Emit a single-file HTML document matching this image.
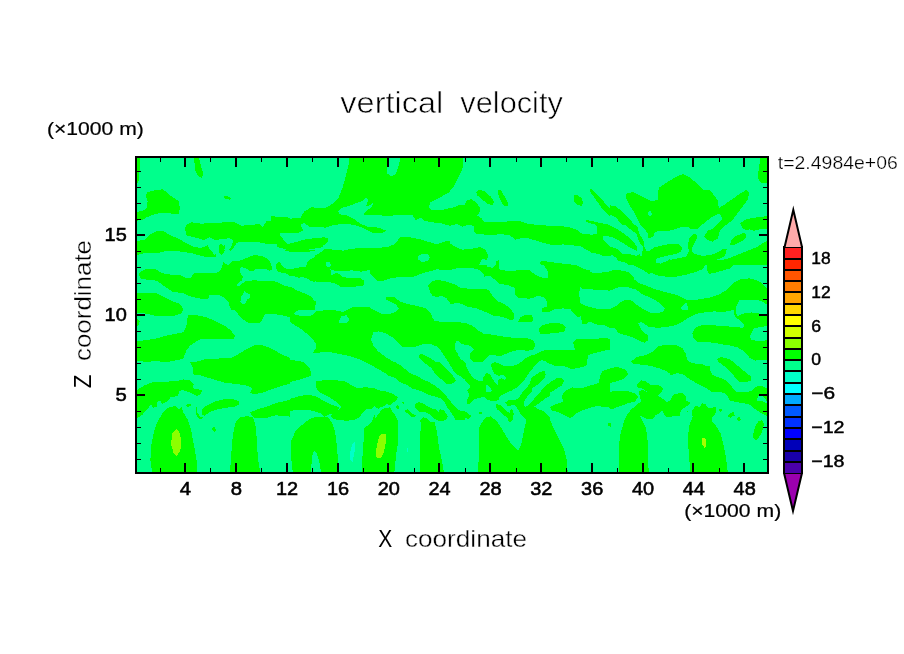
<!DOCTYPE html>
<html><head><meta charset="utf-8"><title>vertical velocity</title>
<style>html,body{margin:0;padding:0;background:#fff}svg{display:block}text{font-family:"Liberation Sans",sans-serif;fill:#000}</style></head><body>
<svg width="904" height="654" viewBox="0 0 904 654">
<rect width="904" height="654" fill="#fff"/>
<defs><clipPath id="pc"><rect x="136" y="157" width="632" height="316"/></clipPath></defs>
<rect x="136" y="157" width="632" height="316" fill="#00FF8C"/>
<g clip-path="url(#pc)" shape-rendering="crispEdges">
<g id="tA">
<polygon fill="#00FF00" points="137.1,157.7 139.7,157.7 139.7,169.2 138.5,181.5 137.1,183.3"/>
<polygon fill="#00FF00" points="194.1,157.7 199.0,157.7 200.8,165.6 203.5,173.6 201.7,177.7 198.1,176.2 195.1,170.0"/>
<polygon fill="#00FF00" points="146.8,192.2 154.8,190.4 162.7,189.2 170.7,195.7 178.7,201.0 179.9,208.1 178.7,214.3 169.8,213.4 162.7,212.5 154.8,214.3 147.7,216.9 142.4,219.6 137.1,220.8 137.1,211.6 142.4,211.3 146.8,208.1 147.7,201.0 145.9,196.6"/>
<polygon fill="#00FF00" points="224.2,195.7 227.3,196.1 230.9,197.8 230.0,199.6 225.6,199.2 223.8,197.5"/>
<polygon fill="#00FF00" points="185.8,224.9 191.9,222.3 200.8,223.7 209.6,223.1 225.6,222.3 234.4,222.3 241.5,225.8 250.4,224.9 260.1,224.0 262.7,227.6 266.3,221.4 270.7,221.4 271.6,215.2 276.9,217.3 284.0,216.9 290.0,217.8 290.0,232.7 279.9,232.7 280.4,235.5 283.6,239.8 287.2,243.8 290.0,243.8 290.0,251.5 284.0,248.8 276.9,247.0 276.9,243.5 269.8,244.4 261.0,242.6 250.4,241.7 239.7,241.7 236.2,243.5 231.8,250.6 228.2,251.5 231.8,245.3 233.5,240.0 229.1,238.2 222.0,239.1 215.0,240.0 209.6,237.3 204.3,240.0 197.3,238.2 191.9,236.8 186.6,235.5 185.2,229.3"/>
<polygon fill="#00FF00" points="218.5,245.3 221.2,243.5 223.8,246.2 225.6,243.5 224.7,248.8 222.0,254.1 219.4,251.5"/>
<polygon fill="#00FF00" points="137.1,240.8 144.2,240.0 149.5,234.6 156.5,231.1 163.6,231.1 170.7,235.5 179.6,239.1 186.6,243.5 193.7,247.0 200.8,247.9 207.9,245.3 209.6,248.8 213.2,253.2 215.8,256.8 207.9,257.3 200.8,255.9 191.9,253.2 183.1,252.0 174.2,250.6 167.2,250.6 161.9,252.3 153.0,253.2 144.2,253.2 137.1,255.0"/>
<polygon fill="#00FF00" points="222.0,265.1 223.8,262.1 227.3,263.8 232.7,261.2 243.3,258.5 252.1,255.0 257.4,255.0 264.5,257.7 269.8,262.1 271.6,265.1"/>
<polygon fill="#00FF00" points="276.9,263.0 280.4,262.1 284.0,265.1 276.9,265.1"/>
</g>
<g id="tB">
<polygon fill="#00FF00" points="349.3,157.7 348.4,165.6 345.8,176.2 342.2,188.6 338.7,197.5 332.5,203.7 325.4,208.1 318.3,208.1 311.2,207.2 304.2,211.6 300.6,217.8 290.0,218.7 290.0,232.5 298.8,232.9 303.3,230.2 300.6,224.9 304.2,223.1 309.5,226.7 316.5,226.7 325.4,227.6 334.2,224.9 343.1,224.0 350.2,224.4 357.3,225.8 364.3,228.5 373.2,232.9 382.0,232.9 386.5,230.8 378.5,227.6 367.9,226.7 360.8,224.0 353.7,218.7 346.6,215.2 339.6,214.3 338.1,211.6 341.3,208.1 350.2,205.4 357.3,202.8 362.6,201.0 367.0,197.1 367.9,201.0 366.1,206.3 369.6,205.4 372.8,203.1 372.3,206.3 367.9,209.9 362.6,214.3 367.9,215.2 375.0,214.8 382.0,215.5 392.7,215.5 403.3,215.2 412.1,214.8 415.7,220.1 421.0,217.8 424.5,220.5 431.6,222.3 440.4,223.1 450.0,225.8 450.0,208.1 440.4,210.2 431.6,210.2 428.9,207.2 430.7,201.9 438.7,198.4 445.8,193.9 450.0,192.2 450.0,157.7 400.6,157.7 398.0,167.4 396.2,173.6 390.9,176.6 386.5,172.7 386.5,157.7"/>
<polygon fill="#00FF00" points="290.0,243.5 297.1,241.7 305.9,239.1 314.8,238.2 323.6,237.3 328.1,238.2 328.1,241.7 323.6,245.3 321.9,247.4 314.8,248.5 307.7,249.7 298.8,251.5 290.0,253.2"/>
<polygon fill="#00FF00" points="306.8,265.1 307.7,261.2 314.8,255.9 321.9,251.5 325.4,248.8 334.2,249.7 343.1,250.6 351.9,248.8 360.8,247.9 369.6,248.5 378.5,247.9 387.3,247.0 394.4,244.4 398.0,240.0 400.6,237.3 410.4,237.3 419.2,239.1 428.1,241.7 436.9,244.4 444.0,241.7 450.0,240.8 450.0,265.1"/>
<polygon fill="#00FF8C" points="326.3,262.1 329.8,261.7 331.1,265.1 326.3,265.1"/>
<polygon fill="#00FF8C" points="418.3,255.9 421.9,254.1 428.1,254.5 430.2,257.7 427.2,261.2 421.9,262.1 418.3,259.4"/>
</g>
<g id="tC">
<polygon fill="#00FF00" points="450.0,157.7 463.3,157.7 462.4,169.2 458.0,178.0 453.5,186.9 450.0,190.4"/>
<polygon fill="#00FF00" points="476.2,192.2 479.2,189.7 484.9,191.6 491.2,197.1 493.9,201.9 492.8,205.3 487.7,204.0 481.5,198.9 477.1,195.2"/>
<polygon fill="#00FF00" points="498.3,190.4 500.6,190.0 505.2,197.1 508.1,202.8 507.9,206.3 503.8,205.8 500.1,199.6 498.3,194.3"/>
<polygon fill="#00FF00" points="450.0,208.1 455.3,207.2 458.8,204.6 464.2,205.4 466.8,200.1 471.2,199.2 476.5,202.8 480.1,208.1 479.2,213.4 476.5,215.2 481.9,218.7 484.5,222.3 496.0,222.3 508.4,221.4 520.8,221.4 527.9,224.0 538.5,224.9 549.1,225.8 559.7,225.8 570.4,227.6 577.4,230.2 581.9,233.8 591.6,234.6 596.9,235.5 597.8,229.3 596.9,224.9 589.8,223.1 585.4,221.9 586.3,220.1 593.4,221.4 600.4,223.1 610.0,224.9 610.0,236.4 604.0,236.1 605.8,240.0 610.0,245.3 610.0,254.1 605.8,257.3 600.4,255.0 591.6,252.0 584.5,248.8 581.0,246.2 572.1,245.3 563.3,244.4 554.4,245.3 545.6,243.5 536.7,240.8 527.9,238.2 522.6,237.8 515.5,239.6 510.2,235.5 503.1,234.3 494.2,234.6 485.4,234.6 476.5,233.8 473.9,231.1 473.9,225.8 467.7,224.9 462.4,226.7 457.1,224.0 450.0,225.8"/>
<polygon fill="#00FF00" points="573.9,195.7 576.5,194.8 581.9,198.4 583.1,202.8 581.9,206.0 577.4,204.9 573.9,201.0"/>
<polygon fill="#00FF00" points="589.5,189.5 591.9,189.2 599.6,196.8 606.8,205.3 610.0,208.5 610.0,216.1 605.8,212.5 600.4,206.3 595.1,198.4 590.7,192.5"/>
<polygon fill="#00FF00" points="450.0,243.5 455.3,247.0 462.4,249.7 471.2,248.8 480.1,247.0 485.4,249.7 488.1,255.0 487.2,260.3 482.7,258.5 481.0,261.2 479.2,265.1 450.0,265.1"/>
<polygon fill="#00FF00" points="495.7,261.2 498.7,260.3 498.7,265.1 495.7,265.1"/>
<polygon fill="#00FF00" points="539.4,262.1 542.9,260.8 550.9,262.1 559.7,263.3 570.4,264.4 572.1,265.1 541.2,265.1"/>
</g>
<g id="tD">
<polygon fill="#00FF00" points="760.4,157.7 767.0,157.7 767.0,183.3 760.4,182.4 757.8,178.0 758.7,169.2"/>
<polygon fill="#00FF00" points="626.8,193.1 633.0,192.2 641.9,196.6 650.7,201.0 657.8,200.1 658.7,187.7 668.4,181.5 677.3,176.2 683.5,174.1 689.6,177.1 696.7,183.3 702.9,189.5 709.1,189.5 714.4,195.7 718.0,201.0 718.8,208.1 723.3,205.4 732.1,199.2 741.0,193.1 746.3,190.0 748.9,192.2 748.1,199.2 742.7,206.3 737.4,213.4 732.1,220.5 725.0,225.8 719.7,231.1 718.0,238.2 712.7,241.7 707.3,240.0 704.2,236.8 707.3,231.1 714.4,227.6 720.6,221.4 722.4,217.8 718.8,213.4 710.9,217.8 702.0,224.9 696.7,229.3 691.4,229.3 687.9,226.7 679.0,227.6 671.9,230.2 661.3,231.1 654.2,232.9 651.6,237.3 648.1,237.3 645.4,231.1 640.1,224.0 634.8,213.4 629.5,205.4 625.9,197.5"/>
<polygon fill="#00FF8C" points="648.1,211.6 650.4,211.3 652.1,214.3 649.8,216.1 648.1,214.3"/>
<polygon fill="#00FF00" points="610.0,205.4 615.3,206.3 622.4,211.6 629.5,218.7 636.5,227.6 641.9,238.2 643.6,245.3 642.7,257.7 641.0,257.7 639.2,250.6 634.8,241.7 627.7,231.1 620.6,223.1 615.3,216.9 610.0,214.3"/>
<polygon fill="#00FF00" points="610.0,226.7 615.3,228.5 622.4,233.8 629.5,240.0 634.8,245.3 637.4,250.6 634.8,252.0 627.7,247.0 620.6,240.8 615.3,236.4 610.0,234.6"/>
<polygon fill="#00FF00" points="610.0,248.8 615.3,249.7 622.4,253.2 631.2,255.9 640.1,257.7 643.6,251.5 650.7,250.6 656.0,247.0 664.9,244.4 673.7,243.5 679.0,244.4 682.6,247.9 680.8,251.5 675.5,254.1 666.6,255.9 659.6,257.7 656.0,261.2 657.8,263.8 664.9,262.1 671.9,259.4 680.8,257.7 686.1,256.8 688.8,251.5 687.9,243.5 689.6,238.2 693.2,233.8 696.7,234.6 697.1,238.2 694.1,243.5 691.4,248.8 693.2,253.2 702.0,255.9 710.9,255.0 716.2,253.2 723.3,248.8 726.8,248.8 725.0,255.9 719.7,258.5 716.2,259.8 723.3,259.8 730.4,257.7 739.2,254.1 748.1,250.6 756.9,247.0 762.2,243.5 767.0,240.8 767.0,265.1 610.0,265.1"/>
<polygon fill="#00FF00" points="740.1,223.1 746.3,219.1 756.9,217.3 767.0,216.1 767.0,229.0 760.4,229.3 753.4,230.8 749.8,229.3 746.3,230.2 742.7,228.5"/>
<polygon fill="#00FF00" points="729.5,245.3 731.2,240.8 735.7,236.1 742.7,233.2 745.4,232.9 745.9,238.2 741.0,241.7 733.9,245.3"/>
</g>
<g id="tE">
<polygon fill="#00FF00" points="139.7,272.1 145.9,268.9 154.8,268.9 161.9,273.0 170.7,274.7 179.6,274.7 186.6,278.3 191.1,277.4 193.7,273.5 204.3,273.0 216.7,273.0 222.0,269.4 226.5,265.0 271.6,265.0 271.6,267.7 253.9,267.7 240.6,267.7 243.3,277.4 238.8,282.7 236.2,285.9 240.6,284.5 245.0,280.9 257.4,280.6 271.6,280.9 278.7,280.6 290.0,284.5 290.0,317.2 282.2,315.4 271.6,313.7 264.5,314.6 262.7,319.0 260.1,322.5 247.7,322.5 241.5,318.1 236.2,311.9 230.9,307.5 227.3,300.4 222.0,298.6 215.0,295.1 209.6,294.7 207.9,299.5 200.8,298.6 191.9,296.9 183.1,293.3 172.5,291.5 165.4,287.1 158.3,281.8 153.0,279.5 145.9,279.5 140.6,278.3 138.8,274.7"/>
<polygon fill="#00FF8C" points="243.3,291.5 246.8,291.5 250.4,295.1 247.7,300.4 244.2,303.6 240.6,301.3 241.2,296.0"/>
<polygon fill="#00FF00" points="271.6,265.0 276.9,265.0 277.8,273.0 271.6,272.1"/>
<polygon fill="#00FF00" points="137.1,293.3 147.7,293.0 156.5,293.3 163.6,296.9 172.5,301.3 179.6,303.9 183.1,308.4 182.2,312.8 176.0,315.4 165.4,316.3 156.5,316.3 147.7,313.7 137.1,312.8"/>
<polygon fill="#00FF00" points="137.1,319.0 139.7,321.6 138.8,325.2 137.1,326.1"/>
<polygon fill="#00FF00" points="188.4,315.4 197.3,315.4 206.1,317.2 215.0,320.8 223.8,325.2 230.0,329.6 235.3,335.8 233.5,339.3 227.3,339.3 218.5,338.5 209.6,339.0 200.8,339.3 195.5,342.0 190.2,345.5 186.6,350.0 184.9,354.4 183.1,358.8 174.2,360.6 165.4,362.3 154.8,360.6 147.7,362.3 137.1,360.6 137.1,341.1 145.9,340.2 156.5,338.5 165.4,335.8 174.2,334.0 183.1,332.3 186.3,326.9 187.0,319.9"/>
<polygon fill="#00FF00" points="193.7,375.1 192.8,367.7 190.2,362.3 197.3,361.5 206.1,358.8 218.5,358.5 230.9,357.9 238.0,354.4 245.0,350.0 253.9,345.5 261.0,345.0 268.1,347.3 276.9,351.7 284.0,355.3 290.0,357.9 290.0,375.1"/>
</g>
<g id="tF">
<polygon fill="#00FF00" points="290.0,270.3 297.1,268.2 304.2,267.1 305.9,265.0 326.3,265.0 326.8,267.1 330.4,267.1 330.7,265.0 450.0,265.0 450.0,270.0 436.9,269.4 429.8,271.2 421.0,273.8 413.9,276.5 403.3,277.0 392.7,277.7 383.8,280.6 376.7,280.6 374.1,277.4 370.5,273.8 369.6,270.0 360.8,271.7 351.9,270.3 343.1,271.2 336.0,271.2 330.4,269.4 331.6,275.3 336.0,273.0 339.6,273.8 343.1,277.4 351.9,277.7 360.8,278.3 364.3,280.9 363.5,285.4 351.9,287.1 341.3,287.1 334.2,282.7 321.0,281.8 313.0,281.3 307.7,279.2 300.6,277.4 290.0,276.0"/>
<polygon fill="#00FF00" points="450.0,282.7 444.0,280.9 436.9,280.0 431.6,281.8 428.1,285.4 429.8,291.5 432.5,296.0 436.9,296.9 442.2,296.0 445.8,297.7 450.0,302.2"/>
<polygon fill="#00FF00" points="290.0,287.1 295.3,288.0 302.4,292.4 311.2,296.9 316.5,302.2 314.8,307.5 307.7,310.0 300.6,310.0 296.2,311.0 293.5,313.7 297.1,315.4 310.4,316.3 316.5,311.4 325.4,310.1 334.2,310.1 343.1,311.9 351.9,307.5 360.8,307.1 369.6,307.5 376.7,311.4 382.0,314.2 389.1,314.2 395.3,311.9 398.8,308.4 396.2,304.8 390.9,302.2 385.6,299.5 385.6,297.2 394.4,297.2 399.7,301.3 406.8,303.9 417.4,306.1 426.3,308.4 430.7,312.8 432.5,318.1 435.1,321.3 450.0,322.0 450.0,364.1 447.5,360.6 444.0,355.3 440.4,350.0 436.9,346.4 429.8,343.8 421.0,344.6 413.9,347.3 403.3,347.3 398.0,342.9 392.7,337.6 385.6,333.1 378.5,331.4 373.2,332.3 371.1,339.3 373.2,345.5 378.5,351.7 385.6,357.0 392.7,361.5 399.7,365.9 406.8,370.3 412.1,375.1 383.8,375.1 378.5,369.4 369.6,364.1 360.8,359.7 350.2,356.2 341.3,354.4 332.5,352.6 323.6,351.7 316.5,353.5 313.0,353.1 315.7,348.2 315.7,342.9 309.5,335.8 300.6,328.7 293.5,324.3 290.0,321.6"/>
<polygon fill="#00FF8C" points="341.3,316.3 346.6,315.1 349.3,319.9 346.6,322.5 339.2,322.5 339.6,319.0"/>
<polygon fill="#00FF00" points="290.0,360.2 297.1,360.6 304.2,362.3 309.5,367.7 311.6,375.1 290.0,375.1"/>
<polygon fill="#00FF00" points="418.3,354.9 421.9,354.0 429.8,357.9 438.7,364.1 445.8,369.4 450.0,372.1 450.0,375.1 436.9,375.1 431.6,369.4 424.5,363.2 420.1,358.8"/>
</g>
<g id="tG">
<polygon fill="#00FF00" points="450.0,265.0 486.3,265.0 487.2,267.1 492.5,267.7 495.1,265.0 498.7,265.0 499.6,269.4 508.4,271.2 520.8,270.0 529.6,270.3 535.0,274.7 542.0,277.7 548.2,278.3 548.2,272.1 543.8,265.0 576.5,265.0 581.0,267.7 591.6,271.2 602.2,272.4 610.0,272.1 610.0,290.7 602.2,290.1 591.6,289.4 582.7,288.9 580.1,287.1 579.2,293.3 580.1,303.1 584.5,305.4 595.1,308.4 604.0,309.2 610.0,309.2 610.0,327.8 604.0,325.2 595.1,324.3 589.8,321.3 586.3,324.3 581.9,323.4 581.0,316.3 577.4,317.2 573.9,313.7 570.4,309.2 563.3,308.4 554.4,309.2 549.1,311.9 542.0,311.9 542.0,308.4 546.5,306.6 547.3,302.2 543.8,296.9 536.7,296.0 533.2,298.3 527.9,298.6 518.1,297.7 514.6,294.2 515.5,288.0 508.4,285.4 499.6,283.6 494.2,279.2 489.8,275.6 484.5,276.5 483.6,273.8 478.3,269.4 473.0,268.2 457.1,268.2 450.0,270.0"/>
<polygon fill="#00FF00" points="450.0,282.7 455.3,284.5 460.6,288.0 471.2,288.9 481.9,288.9 488.9,289.8 492.5,296.0 497.8,301.3 504.9,304.3 510.2,308.4 513.7,313.7 514.6,318.1 511.1,320.8 506.6,318.1 499.6,316.3 492.5,315.4 485.4,311.9 476.5,308.4 467.7,306.6 460.6,303.6 455.3,303.1 450.0,304.3"/>
<polygon fill="#00FF00" points="518.1,321.6 519.9,317.7 524.3,315.4 531.4,315.1 533.2,318.1 532.3,321.6"/>
<polygon fill="#00FF00" points="538.5,329.6 542.0,325.2 549.1,323.4 556.2,322.5 563.3,324.3 565.9,327.3 564.2,331.4 556.2,333.1 547.3,333.7 540.3,333.7"/>
<polygon fill="#00FF00" points="450.0,322.5 457.1,322.0 465.9,323.1 473.0,326.1 478.3,330.5 483.6,333.7 494.2,334.9 506.6,337.2 517.3,337.9 527.9,338.5 533.2,340.2 535.0,343.8 534.1,349.1 527.9,350.8 520.8,350.0 513.7,350.8 506.6,353.5 501.3,355.6 494.2,355.3 490.7,354.4 487.2,357.9 483.6,361.5 473.0,362.0 469.1,358.8 470.4,353.5 473.9,349.1 469.5,345.5 462.4,344.3 457.1,340.2 455.0,343.8 455.3,350.0 458.8,355.3 464.2,360.6 466.8,365.9 468.6,372.1 469.5,375.1 450.0,375.1"/>
<polygon fill="#00FF00" points="486.3,375.1 487.2,373.0 491.1,372.1 491.1,365.9 494.2,362.3 498.7,363.2 504.9,366.2 513.7,366.2 520.8,363.2 526.1,358.8 533.2,355.3 540.3,351.7 545.6,350.0 556.2,349.6 566.8,350.0 574.8,349.6 573.9,344.6 573.0,342.0 576.5,338.5 584.5,339.0 595.1,339.3 604.0,337.6 610.0,339.0 610.0,349.6 604.0,350.8 596.9,352.6 588.1,354.9 587.2,360.6 586.3,365.9 579.2,367.7 572.1,369.1 563.3,365.9 554.4,365.9 547.3,362.3 542.0,360.2 537.6,362.0 533.2,366.8 527.9,371.2 520.8,375.1"/>
<polygon fill="#00FF00" points="535.0,375.1 540.3,372.1 545.6,371.2 546.5,375.1"/>
<polygon fill="#00FF00" points="600.4,375.1 602.2,371.2 610.0,368.5 610.0,375.1"/>
</g>
<g id="tH">
<polygon fill="#00FF00" points="636.5,265.0 705.6,265.0 702.0,269.4 695.0,272.1 686.1,274.7 677.3,276.5 666.6,276.5 657.8,274.7 650.7,273.0 643.6,270.3"/>
<polygon fill="#00FF00" points="707.3,265.0 733.9,265.0 730.4,268.5 723.3,270.3 714.4,273.0 709.1,273.8 707.0,270.3"/>
<polygon fill="#00FF00" points="610.0,272.1 617.1,270.3 625.9,272.1 633.0,277.4 638.3,282.7 645.4,285.4 654.2,288.9 666.6,292.4 677.3,295.1 684.3,298.6 687.9,300.4 698.5,299.5 709.1,297.7 719.7,294.2 726.8,289.8 733.9,282.7 741.0,279.2 749.8,278.3 758.7,280.9 767.0,288.0 767.0,304.8 762.2,301.3 755.1,299.5 746.3,299.5 739.2,300.4 736.5,305.7 735.7,311.9 737.4,316.3 742.7,313.7 751.6,312.4 760.4,313.7 767.0,315.4 767.0,326.1 760.4,326.9 753.4,328.7 751.6,333.1 749.8,336.7 751.6,340.2 760.4,341.1 767.0,340.2 767.0,359.7 760.4,359.7 755.1,360.6 749.8,357.9 744.5,351.7 737.4,347.3 730.4,345.5 723.3,344.6 714.4,342.9 705.6,342.0 696.7,341.5 693.2,337.6 692.3,333.1 695.0,327.8 702.0,325.2 712.7,325.2 723.3,326.1 733.9,326.9 742.7,327.8 744.5,325.2 739.2,319.9 734.8,316.3 733.5,310.1 730.4,310.7 723.3,311.9 714.4,311.4 705.6,312.4 698.5,313.1 693.2,315.4 687.9,318.1 682.6,321.6 675.5,325.2 666.6,326.9 657.8,327.8 648.9,326.9 641.0,321.6 638.3,323.4 641.9,330.5 648.1,335.8 648.1,340.2 644.5,342.9 638.3,340.2 631.2,336.7 624.2,334.9 617.1,332.3 616.2,328.7 610.0,327.8 610.0,309.2 615.3,306.6 620.6,302.2 625.9,299.5 631.2,300.4 636.5,304.8 643.6,309.2 650.7,312.8 657.8,313.1 663.1,311.4 664.9,308.4 661.3,304.8 656.0,300.4 648.9,296.9 641.9,294.2 636.5,289.8 627.7,287.1 618.8,287.1 610.0,290.7"/>
<polygon fill="#00FF8C" points="680.8,307.5 686.1,302.2 687.9,306.6 687.9,309.6 681.7,309.6"/>
<polygon fill="#00FF00" points="631.2,361.5 636.5,357.0 645.4,355.3 652.5,351.7 657.8,346.4 666.6,344.6 675.5,345.0 682.6,348.2 686.1,354.4 687.0,359.7 691.4,363.2 702.0,364.1 709.1,367.7 710.9,375.1 671.9,375.1 666.6,371.2 659.6,368.5 650.7,365.9 640.1,364.5 633.0,364.1"/>
<polygon fill="#00FF00" points="610.0,367.7 618.8,367.3 625.0,369.4 627.7,373.0 627.7,375.1 610.0,375.1"/>
<polygon fill="#00FF00" points="717.1,358.8 721.5,357.0 728.6,358.8 733.9,362.3 739.2,367.7 746.3,372.1 749.8,375.1 733.9,375.1 728.6,369.4 721.5,364.1 718.0,361.5"/>
</g>
<g id="tI">
<polygon fill="#00FF00" points="199.0,375.0 290.0,375.0 290.0,383.8 282.2,385.6 271.6,389.2 262.7,392.7 253.9,394.1 250.4,392.7 252.1,388.3 246.8,385.6 236.2,383.8 225.6,383.0 216.7,380.3 206.1,377.1"/>
<polygon fill="#00FF00" points="137.1,390.0 144.2,385.6 153.0,382.1 165.4,381.7 176.0,381.2 183.1,379.4 190.2,380.3 193.7,384.7 192.8,388.3 197.3,389.2 202.6,390.0 200.8,393.6 197.3,396.2 190.2,392.7 183.1,390.0 179.6,390.9 177.8,396.2 170.7,397.1 167.2,401.5 161.9,404.2 160.1,400.7 156.5,402.4 157.4,406.9 153.0,407.7 151.2,404.2 147.7,408.6 142.4,414.8 137.1,418.4"/>
<polygon fill="#00FF00" points="152.1,472.0 150.4,460.0 151.2,445.8 153.9,431.6 157.4,421.9 162.7,413.1 168.1,407.7 175.1,406.0 178.7,409.5 181.3,406.9 183.1,412.2 187.5,419.2 191.1,429.9 193.7,444.0 196.4,458.2 197.3,472.0"/>
<polygon fill="#8CFF00" points="176.0,429.0 179.2,431.6 181.3,440.5 180.4,450.2 176.9,456.1 173.4,452.9 171.1,444.0 172.1,433.4"/>
<polygon fill="#00FF00" points="185.8,405.1 190.2,403.3 191.9,405.1 187.5,407.2"/>
<polygon fill="#00FF00" points="196.4,406.0 197.3,412.2 199.9,416.6 202.6,417.5 201.7,419.2 198.1,418.4 195.8,413.1"/>
<polygon fill="#00FF00" points="201.7,409.5 206.1,406.0 215.0,401.5 223.8,399.4 232.7,398.9 238.8,401.2 239.7,404.2 234.4,406.9 225.6,407.7 216.7,409.5 209.6,412.2 204.3,416.1 201.7,413.9"/>
<polygon fill="#00FF00" points="212.3,427.7 215.0,427.2 216.2,430.8 214.1,432.0 212.3,429.9"/>
<polygon fill="#00FF00" points="230.0,472.0 231.2,454.6 232.7,436.9 235.3,422.8 239.7,417.5 246.8,416.1 253.0,417.5 255.7,426.3 257.1,442.3 257.8,458.2 260.1,472.0"/>
<polygon fill="#00FF00" points="250.4,412.2 257.4,409.5 268.1,406.0 278.7,402.4 290.0,399.8 290.0,416.6 282.2,415.7 275.1,415.4 268.1,417.5 259.2,418.4 253.9,417.5 251.2,414.8"/>
</g>
<g id="tJ">
<polygon fill="#00FF00" points="290.0,375.0 312.1,375.0 305.9,377.7 297.1,380.3 290.0,382.1"/>
<polygon fill="#00FF00" points="387.3,375.0 413.9,375.0 421.0,380.3 429.8,385.6 438.7,392.7 445.8,399.8 450.0,404.2 450.0,413.1 445.8,409.5 442.2,403.3 435.1,396.2 426.3,390.9 417.4,386.5 406.8,383.0 396.2,379.4"/>
<polygon fill="#00FF00" points="437.8,375.0 450.0,375.0 450.0,384.7 444.0,382.1 439.6,378.5"/>
<polygon fill="#00FF00" points="316.5,381.2 325.4,380.0 336.0,380.3 344.9,381.2 351.9,385.6 357.3,388.3 364.3,387.4 375.0,387.7 385.6,390.0 394.4,393.6 398.0,397.1 396.2,401.5 390.9,406.0 385.6,408.6 380.3,407.7 375.0,406.0 371.4,408.6 366.1,409.5 362.6,413.1 359.0,417.5 353.7,420.1 346.6,420.7 339.6,420.1 334.2,419.2 330.7,416.6 332.5,413.1 337.8,410.4 341.3,406.9 336.0,401.5 328.9,397.1 320.1,392.7 315.7,387.4"/>
<polygon fill="#00FF00" points="290.0,398.9 298.8,396.2 307.7,394.8 314.8,395.9 321.9,399.8 330.7,404.2 339.6,407.7 337.8,410.4 332.5,413.1 324.5,416.6 321.9,413.9 314.8,411.3 305.9,409.5 297.1,409.5 290.0,411.3"/>
<polygon fill="#00FF00" points="292.7,472.0 290.9,454.6 291.4,440.5 295.3,431.6 302.4,424.6 309.5,419.2 316.5,416.6 324.5,416.6 328.1,417.5 331.6,421.9 335.1,431.6 336.9,445.8 337.8,458.2 338.1,472.0 321.0,472.0 319.2,461.7 316.5,452.9 313.9,450.2 312.1,456.4 310.9,472.0"/>
<polygon fill="#00FF00" points="361.7,472.0 362.6,454.6 363.5,442.3 364.3,428.1 371.4,422.8 374.1,415.7 378.5,410.4 385.6,408.6 390.9,407.7 394.4,410.4 397.1,417.5 398.3,428.1 398.0,442.3 396.2,454.6 394.4,472.0"/>
<polygon fill="#8CFF00" points="382.0,433.4 385.6,434.3 385.9,442.3 383.8,452.9 380.3,458.5 376.4,457.3 375.8,451.1 377.6,442.3 379.4,436.1"/>
<polygon fill="#00FFC8" points="351.9,444.9 354.6,442.3 354.6,451.1 352.8,461.7 350.2,460.0 349.8,454.6"/>
<polygon fill="#00FFC8" points="406.8,448.5 408.2,447.6 408.2,452.0 406.8,452.0"/>
<polygon fill="#00FF00" points="420.1,472.0 420.1,445.8 420.6,428.1 421.0,417.5 424.5,413.1 429.8,414.8 434.2,421.0 436.9,431.6 438.7,445.8 441.3,458.2 444.0,472.0"/>
<polygon fill="#00FF00" points="414.8,406.0 417.4,403.3 424.5,403.3 431.6,406.9 438.7,410.4 442.2,409.5 445.8,411.3 447.5,416.6 444.0,421.0 440.4,421.4 436.9,417.5 431.6,413.9 424.5,412.2 419.2,410.4"/>
<polygon fill="#00FF00" points="405.0,409.5 407.7,410.4 412.1,413.9 415.7,414.8 413.9,417.1 409.5,415.7 405.9,412.5"/>
<polygon fill="#00FF00" points="396.2,406.0 398.3,406.5 398.8,409.5 397.1,409.5"/>
</g>
<g id="tK">
<polygon fill="#00FF00" points="450.0,375.0 531.4,375.0 527.9,381.2 522.6,388.3 516.4,393.6 511.1,400.7 506.6,405.1 503.1,406.9 498.7,401.5 490.7,400.1 482.7,396.2 473.0,400.7 466.8,403.3 469.5,398.0 467.7,391.8 471.2,387.4 467.7,381.2 460.6,379.4 455.3,375.0"/>
<polygon fill="#00FF00" points="538.5,375.0 545.6,375.0 540.3,383.0 535.0,388.3 530.5,394.5 527.0,399.8 524.3,406.0 522.9,401.5 524.3,396.2 527.9,390.9 532.3,386.5 535.0,382.1"/>
<polygon fill="#00FF00" points="556.2,378.5 561.5,377.7 564.2,381.2 561.5,385.6 554.4,390.0 547.3,394.5 542.0,398.9 536.7,403.3 533.2,407.7 529.6,406.0 529.6,401.5 535.0,396.2 542.0,389.2 549.1,383.0"/>
<polygon fill="#00FF00" points="478.3,472.0 479.2,428.1 481.9,421.0 486.3,416.6 490.7,416.1 496.0,420.1 501.3,428.1 506.6,436.9 511.9,444.9 518.1,451.1 520.8,445.8 523.5,433.4 526.1,419.2 528.8,412.2 533.2,407.7 538.5,409.5 545.6,414.8 550.9,421.9 554.4,429.9 559.7,440.5 564.2,449.3 566.8,460.0 567.7,472.0"/>
<polygon fill="#00FF00" points="496.4,404.2 500.4,403.3 503.1,407.7 508.4,413.1 511.1,409.5 512.8,410.4 513.7,417.5 511.1,421.4 507.5,417.5 503.1,413.1 497.8,408.6"/>
<polygon fill="#00FF00" points="550.0,406.9 556.2,404.2 563.3,401.5 561.5,396.2 565.0,390.9 572.1,387.4 581.0,388.3 589.8,385.6 598.7,383.0 600.4,375.0 610.0,375.0 610.0,407.7 604.0,406.9 596.9,406.0 589.8,407.7 582.7,410.4 576.5,413.1 570.4,418.4 565.9,415.7 558.0,412.2 551.8,410.4"/>
<polygon fill="#00FF00" points="450.0,402.4 453.5,406.9 458.8,410.4 465.9,412.2 471.2,416.6 467.7,418.4 462.4,417.5 457.1,419.2 450.0,413.1"/>
<polygon fill="#00FF00" points="608.1,422.8 610.0,422.8 610.0,426.3 608.1,426.3"/>
</g>
<g id="tL">
<polygon fill="#00FF00" points="610.0,375.0 627.7,375.0 624.2,378.5 617.1,381.2 610.0,383.0"/>
<polygon fill="#00FF00" points="610.0,391.8 617.1,390.6 625.9,390.6 634.8,393.6 638.3,397.1 634.8,401.5 627.7,403.3 620.6,406.0 613.5,408.6 610.0,409.5"/>
<polygon fill="#00FF00" points="618.8,472.0 618.8,445.8 620.6,433.4 624.2,421.0 627.7,413.9 631.2,409.5 636.5,405.1 641.0,401.5 640.1,396.2 638.3,391.8 642.7,390.0 647.2,391.8 641.9,388.3 637.4,387.4 637.4,383.8 641.0,380.3 645.4,381.2 650.7,384.7 659.6,385.6 663.1,388.3 661.3,392.7 657.8,395.4 663.1,398.9 666.6,402.4 671.1,399.8 672.8,395.4 677.3,393.6 682.6,393.6 686.1,397.1 685.2,401.5 689.6,402.4 687.9,406.0 682.6,410.4 677.3,413.1 671.9,416.6 666.6,417.5 664.0,413.9 662.2,410.4 659.6,413.1 656.0,414.8 653.4,418.4 648.1,419.2 643.6,417.5 640.1,415.7 641.9,420.1 645.4,426.3 647.2,435.2 648.1,449.3 648.6,472.0"/>
<polygon fill="#00FF00" points="684.3,375.0 733.9,375.0 739.2,380.3 746.3,382.1 751.6,379.4 751.6,375.0 767.0,375.0 767.0,380.3 762.2,383.0 757.8,386.0 767.0,386.0 767.0,409.5 762.2,407.7 755.1,405.1 744.5,404.2 733.9,402.4 728.6,399.8 725.0,392.7 716.2,389.2 709.1,385.6 700.3,383.8 693.2,381.2 687.9,378.5"/>
<polygon fill="#00FF8C" points="767.0,380.3 767.0,386.0 760.4,386.5 755.1,387.7 751.6,390.9 744.5,392.2 735.7,392.2 733.9,390.0 741.0,389.5 749.8,388.8 756.9,385.3 762.2,382.4"/>
<polygon fill="#00FF00" points="690.5,472.0 688.8,454.6 687.9,436.9 689.6,424.6 693.2,415.7 696.7,410.4 700.3,407.7 699.4,404.2 703.8,403.3 709.1,406.9 714.4,409.5 716.2,406.9 717.1,412.2 712.7,415.7 711.8,421.0 716.2,426.3 720.6,433.4 723.3,444.0 725.9,456.4 727.7,472.0"/>
<polygon fill="#A5FF00" points="702.4,438.4 704.7,437.8 706.1,440.5 706.1,446.7 704.7,447.9 702.4,444.9"/>
<polygon fill="#00FF00" points="726.8,415.7 732.1,412.5 734.8,414.8 730.4,417.8"/>
<polygon fill="#00FF00" points="736.5,418.4 739.2,417.1 741.3,419.6 738.8,421.9"/>
<polygon fill="#00FF00" points="718.8,408.6 723.3,409.5 720.6,412.2"/>
<polygon fill="#00FF00" points="753.4,433.4 755.1,426.3 758.7,421.0 762.2,420.1 764.0,424.6 762.2,431.6 758.7,437.8 755.5,440.5 753.0,437.8"/>
<polygon fill="#00FF00" points="610.0,421.9 611.4,423.7 610.9,426.3 610.0,427.2"/>
</g>
<clipPath id="pp0"><rect x="590" y="225" width="80" height="55"/></clipPath>
<g clip-path="url(#pp0)">
<rect x="590" y="225" width="80" height="55" fill="#00FF8C"/>
<polygon fill="#00FF00" points="595.8,225.0 608.6,225.0 613.0,226.8 619.2,230.3 625.4,234.7 630.7,239.2 634.2,242.7 636.5,246.2 636.9,250.7 632.5,248.9 627.2,245.8 621.9,242.3 616.5,239.2 611.2,236.9 606.8,236.1 603.3,236.5 602.8,239.2 605.9,242.7 610.4,247.1 615.7,248.0 619.2,250.7 622.7,253.8 631.6,254.6 636.9,256.0 639.6,253.8 641.3,257.7 642.2,252.4 643.1,247.1 640.4,244.0 638.2,239.2 636.5,233.8 631.6,230.3 627.2,226.8 625.0,225.0 636.0,225.0 638.2,227.7 638.7,233.0 641.8,237.4 643.5,240.9 644.0,245.4 646.2,250.7 649.7,250.7 653.7,247.6 660.8,245.8 670.0,244.0 670.0,255.1 666.1,256.0 660.8,257.3 655.5,259.1 656.4,262.6 660.8,263.8 665.2,261.7 668.8,260.0 670.0,257.7 670.0,276.8 661.7,276.3 656.4,275.0 651.9,273.2 648.4,273.7 643.1,270.1 637.8,267.5 635.1,265.7 628.9,264.8 624.5,262.2 618.3,260.8 616.1,257.7 612.1,255.1 607.7,256.4 603.3,256.4 598.8,253.8 591.8,253.1 590.0,251.5 590.0,234.7 596.6,234.3 597.1,227.7"/>
<polygon fill="#00FF00" points="640.9,225.0 670.0,225.0 670.0,230.8 657.3,231.2 654.6,233.0 653.7,235.6 651.1,237.8 648.0,237.8 647.5,233.0 644.9,229.4 642.2,226.8"/>
<polygon fill="#00FF00" points="590.0,271.9 593.5,272.8 607.7,272.3 611.2,270.6 616.5,270.1 621.9,270.6 628.1,271.9 631.6,274.6 633.8,277.7 634.7,280.0 590.0,280.0"/>
</g>
<clipPath id="pp1"><rect x="450" y="355" width="100" height="69"/></clipPath>
<g clip-path="url(#pp1)">
<rect x="450" y="355" width="100" height="69" fill="#00FF8C"/>
<polygon fill="#00FF00" points="450.0,355.0 457.7,355.0 461.1,359.4 465.5,362.7 466.6,367.2 469.9,373.8 473.8,378.2 478.8,381.0 483.2,381.0 483.2,377.1 486.5,373.3 489.8,373.8 492.0,378.2 495.4,383.2 497.6,384.9 498.7,379.3 502.0,378.2 505.3,380.4 505.9,377.1 503.1,374.4 498.7,376.0 494.2,373.8 492.0,369.4 490.9,364.4 494.8,362.2 499.8,363.8 504.2,366.1 511.9,366.1 517.5,364.4 521.9,361.6 525.2,358.3 531.9,355.0 550.0,355.0 550.0,364.4 546.2,361.6 541.8,360.0 538.5,361.6 535.2,365.5 531.9,369.4 528.5,373.8 525.2,378.8 521.9,382.7 517.5,387.1 511.9,390.4 505.3,393.2 499.8,395.9 498.7,400.4 493.1,400.9 488.7,400.4 483.2,396.5 479.3,398.1 473.8,399.2 469.9,403.7 466.6,403.7 466.6,400.4 468.8,397.0 469.4,393.7 466.6,390.4 470.5,387.6 469.4,384.3 464.4,380.4 458.8,376.6 455.5,372.7 452.2,368.8 450.0,367.2"/>
<polygon fill="#00FF8C" points="486.0,384.9 488.2,385.4 492.0,390.4 489.8,392.1 486.0,391.5"/>
<polygon fill="#00FF00" points="469.9,355.0 489.8,355.0 486.5,358.3 483.2,361.6 473.2,361.6 469.9,358.9"/>
<polygon fill="#00FF00" points="495.9,355.0 503.1,355.0 502.0,355.9 496.5,355.9"/>
<polygon fill="#00FF00" points="450.0,373.3 453.3,376.6 455.5,380.4 453.3,383.2 450.0,384.9"/>
<polygon fill="#00FF00" points="545.1,371.6 542.9,371.0 538.5,372.7 535.2,375.5 531.3,377.7 530.2,382.7 527.4,387.1 523.6,391.0 520.8,394.8 518.0,399.2 511.9,400.4 508.6,399.8 505.3,402.6 507.5,405.9 510.3,406.4 513.1,404.2 516.4,407.0 518.6,410.3 520.8,414.7 523.6,417.5 525.8,419.2 525.8,424.0 550.0,424.0 550.0,418.1 547.3,414.7 544.0,411.4 538.5,409.2 534.1,406.4 538.5,403.7 542.9,400.4 547.3,397.0 550.0,395.9 550.0,382.7 546.2,384.9 542.9,388.7 539.6,392.6 535.2,397.6 531.9,401.5 528.5,405.3 525.2,407.0 523.9,404.8 524.7,400.4 527.4,396.5 531.3,392.6 532.4,388.2 537.4,384.9 541.8,381.0 544.6,377.7 545.7,374.4"/>
<polygon fill="#00FF00" points="450.0,402.0 453.3,407.0 457.7,410.9 464.4,410.9 468.8,414.2 471.6,415.8 468.8,419.2 465.5,418.1 461.1,418.6 460.5,420.3 455.5,420.3 454.4,416.9 450.0,411.4"/>
<polygon fill="#00FF00" points="481.0,424.0 483.2,420.8 486.5,416.9 490.9,416.4 494.2,419.2 497.6,422.5 498.7,424.0"/>
<polygon fill="#00FF00" points="495.4,405.9 496.5,404.2 500.3,404.8 503.1,408.1 506.4,411.4 509.7,413.1 510.8,409.2 512.5,409.8 513.6,413.6 513.1,419.2 510.8,421.9 508.6,421.4 507.5,418.1 504.2,415.3 500.3,412.0 497.0,409.2"/>
<polygon fill="#00FF00" points="479.3,412.0 482.1,412.0 482.1,413.6 479.3,413.6"/>
</g>
<clipPath id="pp2"><rect x="670" y="366" width="97" height="50"/></clipPath>
<g clip-path="url(#pp2)">
<rect x="670" y="366" width="97" height="50" fill="#00FF8C"/>
<polygon fill="#00FF00" points="670.0,366.0 709.8,366.0 710.4,370.4 712.0,374.8 717.6,377.1 724.2,379.3 728.6,382.6 731.9,387.0 735.3,391.4 741.9,392.0 750.8,391.4 754.1,388.1 758.5,385.9 762.9,386.5 767.0,388.1 767.0,416.0 764.0,414.7 758.5,411.4 754.1,408.6 749.6,404.7 743.0,403.1 735.3,402.0 729.7,400.3 727.5,396.4 724.2,393.1 719.8,392.0 715.4,392.5 710.9,391.4 706.5,388.1 702.1,385.9 696.5,383.1 689.9,379.3 684.4,375.4 681.1,373.7 676.6,373.2 673.3,374.3 670.0,375.4"/>
<polygon fill="#00FF00" points="724.2,366.0 738.0,366.0 741.9,369.3 746.3,372.6 750.8,376.5 750.8,380.4 747.4,382.0 743.0,381.5 738.6,381.5 735.3,378.2 732.5,373.7 728.6,369.9"/>
<polygon fill="#00FF8C" points="756.3,400.3 758.5,396.4 761.8,395.9 765.1,398.1 767.0,401.4 767.0,403.6 762.9,401.4 758.5,400.8"/>
<polygon fill="#00FF00" points="670.0,401.4 672.2,395.9 675.5,393.7 682.2,393.1 685.5,396.4 686.0,400.3 690.5,402.5 688.8,404.7 685.5,406.9 682.2,409.1 680.0,412.5 679.7,416.0 670.0,416.0"/>
<polygon fill="#00FF00" points="692.1,416.0 691.6,411.4 693.8,408.6 695.4,405.8 699.9,406.9 702.1,403.1 705.4,404.2 708.2,407.5 712.0,408.6 714.8,406.4 716.5,408.0 715.9,412.5 714.2,416.0"/>
<polygon fill="#00FF00" points="686.6,410.8 688.3,411.9 686.6,413.0"/>
<polygon fill="#00FF00" points="718.7,408.6 723.1,408.6 720.3,412.5"/>
<polygon fill="#00FF00" points="727.5,416.0 730.3,413.0 734.2,411.9 734.7,416.0"/>
</g>
<clipPath id="pp3"><rect x="215" y="250" width="100" height="60"/></clipPath>
<g clip-path="url(#pp3)">
<rect x="215" y="250" width="100" height="60" fill="#00FF8C"/>
<polygon fill="#00FF00" points="215.0,273.2 219.4,271.6 222.2,266.6 223.3,262.2 225.5,263.8 228.3,264.9 231.6,261.6 240.4,260.5 246.0,258.3 250.4,256.1 255.9,255.0 261.5,256.1 267.0,258.3 269.8,261.1 271.4,265.5 272.0,269.9 269.2,270.8 265.9,269.0 259.2,268.6 255.9,269.0 253.7,270.5 249.3,270.5 246.0,268.3 241.0,267.1 239.3,269.9 241.0,273.8 242.7,276.5 242.1,280.4 238.8,282.6 236.6,284.3 237.1,286.5 239.9,286.0 242.7,283.2 245.4,281.5 252.6,280.4 254.8,279.9 259.2,281.0 269.2,281.5 272.5,281.0 276.9,282.1 281.4,284.3 285.8,286.0 292.4,287.6 296.9,290.4 302.4,292.6 307.9,294.8 312.3,297.6 313.5,300.3 315.0,300.9 315.0,310.0 231.6,310.0 229.4,305.3 228.3,301.4 223.8,297.6 219.4,295.4 215.0,295.4"/>
<polygon fill="#00FF8C" points="244.3,291.2 247.1,293.1 249.8,294.2 249.8,297.6 247.1,299.8 244.9,303.7 242.1,304.0 240.4,301.4 241.5,296.5"/>
<polygon fill="#00FF00" points="278.6,261.6 281.4,264.4 284.7,268.3 290.2,269.4 298.0,267.7 305.7,266.6 307.9,261.1 312.3,258.3 315.0,256.6 315.0,282.1 311.2,281.0 306.8,278.5 302.4,277.1 299.1,277.7 294.6,276.5 290.2,276.0 285.8,273.2 278.1,272.1 276.1,268.3 276.4,264.4"/>
<polygon fill="#00FF00" points="283.0,250.0 315.0,250.0 315.0,250.9 306.8,252.0 299.1,252.2 290.2,251.7 285.8,250.9"/>
<polygon fill="#00FF00" points="219.4,250.0 225.0,250.0 223.3,253.3 221.6,255.0 219.4,252.8"/>
<polygon fill="#00FF00" points="215.0,253.9 215.9,254.4 215.9,256.6 215.0,256.9"/>
<polygon fill="#00FF00" points="229.4,250.0 231.6,250.0 230.5,251.3"/>
</g>
<clipPath id="pp4"><rect x="375" y="362" width="90" height="60"/></clipPath>
<g clip-path="url(#pp4)">
<rect x="375" y="362" width="90" height="60" fill="#00FF8C"/>
<polygon fill="#00FF00" points="375.0,362.0 394.9,362.0 399.9,365.0 404.9,369.0 409.8,373.0 416.8,375.9 422.8,379.4 428.8,381.9 434.7,385.4 439.7,389.4 444.7,393.9 448.2,398.8 451.7,402.8 455.6,406.8 458.6,410.3 465.0,411.3 465.0,419.7 460.6,420.2 455.6,419.7 453.7,416.3 450.7,411.8 446.7,406.8 444.7,401.8 440.7,398.3 434.7,396.3 428.8,394.9 422.8,391.9 417.8,389.9 412.8,388.9 407.9,385.4 402.9,383.4 397.9,380.9 394.9,377.9 388.9,375.9 385.0,373.0 380.0,370.0 375.0,367.5"/>
<polygon fill="#00FF00" points="422.8,362.0 439.7,362.0 444.7,367.0 449.7,372.0 453.7,376.9 455.8,380.4 454.6,381.9 450.7,384.4 446.7,384.4 443.7,381.4 438.7,376.9 434.7,373.0 430.8,367.5 426.8,364.5"/>
<polygon fill="#00FF00" points="448.2,362.0 465.0,362.0 465.0,379.9 461.6,376.9 457.6,374.9 453.7,371.0 450.7,366.0"/>
<polygon fill="#00FF00" points="375.0,388.4 379.0,390.4 386.0,391.4 391.9,393.4 395.9,395.8 397.9,397.3 396.4,400.3 392.9,402.8 389.9,405.3 386.9,403.8 384.0,406.3 381.0,406.8 379.0,408.8 375.0,407.3"/>
<polygon fill="#00FF00" points="375.0,418.2 379.0,413.8 381.0,410.3 384.0,408.3 389.9,407.3 391.9,410.8 394.9,414.8 396.9,418.2 398.4,422.0 375.0,422.0"/>
<polygon fill="#00FF00" points="401.9,402.3 403.9,401.8 404.9,403.3 402.9,403.8"/>
<polygon fill="#00FF00" points="396.4,405.8 397.9,404.8 399.4,407.3 398.1,409.8 396.4,408.3"/>
<polygon fill="#00FF00" points="404.9,409.8 407.9,409.3 409.8,411.8 412.8,413.8 415.8,415.3 414.8,416.8 410.8,416.6 407.9,413.8 405.4,411.8"/>
<polygon fill="#00FF00" points="414.8,405.8 415.8,403.3 418.8,402.3 422.8,403.3 426.8,405.8 431.7,408.3 436.7,409.8 438.7,411.8 439.7,409.3 443.7,409.8 445.7,412.8 447.7,416.3 446.7,419.2 443.7,420.7 438.7,420.7 434.7,418.7 431.7,415.8 427.8,413.3 423.8,411.8 419.8,411.8 416.8,409.8 414.8,407.8"/>
<polygon fill="#00FF00" points="419.8,422.0 420.8,419.2 422.8,417.3 425.8,417.8 429.3,420.7 430.3,422.0"/>
</g>
</g>
<g stroke="#000" fill="none" shape-rendering="crispEdges">
<rect x="136" y="157" width="632" height="316" stroke-width="2"/>
<line x1="160.5" y1="158" x2="160.5" y2="162" stroke-width="1"/>
<line x1="160.5" y1="472" x2="160.5" y2="468" stroke-width="1"/>
<line x1="185" y1="158" x2="185" y2="167" stroke-width="2"/>
<line x1="185" y1="472" x2="185" y2="463" stroke-width="2"/>
<line x1="210.5" y1="158" x2="210.5" y2="162" stroke-width="1"/>
<line x1="210.5" y1="472" x2="210.5" y2="468" stroke-width="1"/>
<line x1="236" y1="158" x2="236" y2="167" stroke-width="2"/>
<line x1="236" y1="472" x2="236" y2="463" stroke-width="2"/>
<line x1="261.5" y1="158" x2="261.5" y2="162" stroke-width="1"/>
<line x1="261.5" y1="472" x2="261.5" y2="468" stroke-width="1"/>
<line x1="287" y1="158" x2="287" y2="167" stroke-width="2"/>
<line x1="287" y1="472" x2="287" y2="463" stroke-width="2"/>
<line x1="312.5" y1="158" x2="312.5" y2="162" stroke-width="1"/>
<line x1="312.5" y1="472" x2="312.5" y2="468" stroke-width="1"/>
<line x1="338" y1="158" x2="338" y2="167" stroke-width="2"/>
<line x1="338" y1="472" x2="338" y2="463" stroke-width="2"/>
<line x1="363.5" y1="158" x2="363.5" y2="162" stroke-width="1"/>
<line x1="363.5" y1="472" x2="363.5" y2="468" stroke-width="1"/>
<line x1="388" y1="158" x2="388" y2="167" stroke-width="2"/>
<line x1="388" y1="472" x2="388" y2="463" stroke-width="2"/>
<line x1="414.5" y1="158" x2="414.5" y2="162" stroke-width="1"/>
<line x1="414.5" y1="472" x2="414.5" y2="468" stroke-width="1"/>
<line x1="439" y1="158" x2="439" y2="167" stroke-width="2"/>
<line x1="439" y1="472" x2="439" y2="463" stroke-width="2"/>
<line x1="465.5" y1="158" x2="465.5" y2="162" stroke-width="1"/>
<line x1="465.5" y1="472" x2="465.5" y2="468" stroke-width="1"/>
<line x1="490" y1="158" x2="490" y2="167" stroke-width="2"/>
<line x1="490" y1="472" x2="490" y2="463" stroke-width="2"/>
<line x1="516.5" y1="158" x2="516.5" y2="162" stroke-width="1"/>
<line x1="516.5" y1="472" x2="516.5" y2="468" stroke-width="1"/>
<line x1="541" y1="158" x2="541" y2="167" stroke-width="2"/>
<line x1="541" y1="472" x2="541" y2="463" stroke-width="2"/>
<line x1="566.5" y1="158" x2="566.5" y2="162" stroke-width="1"/>
<line x1="566.5" y1="472" x2="566.5" y2="468" stroke-width="1"/>
<line x1="592" y1="158" x2="592" y2="167" stroke-width="2"/>
<line x1="592" y1="472" x2="592" y2="463" stroke-width="2"/>
<line x1="617.5" y1="158" x2="617.5" y2="162" stroke-width="1"/>
<line x1="617.5" y1="472" x2="617.5" y2="468" stroke-width="1"/>
<line x1="643" y1="158" x2="643" y2="167" stroke-width="2"/>
<line x1="643" y1="472" x2="643" y2="463" stroke-width="2"/>
<line x1="668.5" y1="158" x2="668.5" y2="162" stroke-width="1"/>
<line x1="668.5" y1="472" x2="668.5" y2="468" stroke-width="1"/>
<line x1="693" y1="158" x2="693" y2="167" stroke-width="2"/>
<line x1="693" y1="472" x2="693" y2="463" stroke-width="2"/>
<line x1="719.5" y1="158" x2="719.5" y2="162" stroke-width="1"/>
<line x1="719.5" y1="472" x2="719.5" y2="468" stroke-width="1"/>
<line x1="744" y1="158" x2="744" y2="167" stroke-width="2"/>
<line x1="744" y1="472" x2="744" y2="463" stroke-width="2"/>
<line x1="137" y1="459.5" x2="141" y2="459.5" stroke-width="1"/>
<line x1="767" y1="459.5" x2="763" y2="459.5" stroke-width="1"/>
<line x1="137" y1="443.5" x2="141" y2="443.5" stroke-width="1"/>
<line x1="767" y1="443.5" x2="763" y2="443.5" stroke-width="1"/>
<line x1="137" y1="427.5" x2="141" y2="427.5" stroke-width="1"/>
<line x1="767" y1="427.5" x2="763" y2="427.5" stroke-width="1"/>
<line x1="137" y1="411.5" x2="141" y2="411.5" stroke-width="1"/>
<line x1="767" y1="411.5" x2="763" y2="411.5" stroke-width="1"/>
<line x1="137" y1="395" x2="145" y2="395" stroke-width="2"/>
<line x1="767" y1="395" x2="759" y2="395" stroke-width="2"/>
<line x1="137" y1="379.5" x2="141" y2="379.5" stroke-width="1"/>
<line x1="767" y1="379.5" x2="763" y2="379.5" stroke-width="1"/>
<line x1="137" y1="363.5" x2="141" y2="363.5" stroke-width="1"/>
<line x1="767" y1="363.5" x2="763" y2="363.5" stroke-width="1"/>
<line x1="137" y1="347.5" x2="141" y2="347.5" stroke-width="1"/>
<line x1="767" y1="347.5" x2="763" y2="347.5" stroke-width="1"/>
<line x1="137" y1="331.5" x2="141" y2="331.5" stroke-width="1"/>
<line x1="767" y1="331.5" x2="763" y2="331.5" stroke-width="1"/>
<line x1="137" y1="315" x2="145" y2="315" stroke-width="2"/>
<line x1="767" y1="315" x2="759" y2="315" stroke-width="2"/>
<line x1="137" y1="299.5" x2="141" y2="299.5" stroke-width="1"/>
<line x1="767" y1="299.5" x2="763" y2="299.5" stroke-width="1"/>
<line x1="137" y1="283.5" x2="141" y2="283.5" stroke-width="1"/>
<line x1="767" y1="283.5" x2="763" y2="283.5" stroke-width="1"/>
<line x1="137" y1="267.5" x2="141" y2="267.5" stroke-width="1"/>
<line x1="767" y1="267.5" x2="763" y2="267.5" stroke-width="1"/>
<line x1="137" y1="251.5" x2="141" y2="251.5" stroke-width="1"/>
<line x1="767" y1="251.5" x2="763" y2="251.5" stroke-width="1"/>
<line x1="137" y1="235" x2="145" y2="235" stroke-width="2"/>
<line x1="767" y1="235" x2="759" y2="235" stroke-width="2"/>
<line x1="137" y1="219.5" x2="141" y2="219.5" stroke-width="1"/>
<line x1="767" y1="219.5" x2="763" y2="219.5" stroke-width="1"/>
<line x1="137" y1="203.5" x2="141" y2="203.5" stroke-width="1"/>
<line x1="767" y1="203.5" x2="763" y2="203.5" stroke-width="1"/>
<line x1="137" y1="187.5" x2="141" y2="187.5" stroke-width="1"/>
<line x1="767" y1="187.5" x2="763" y2="187.5" stroke-width="1"/>
<line x1="137" y1="171.5" x2="141" y2="171.5" stroke-width="1"/>
<line x1="767" y1="171.5" x2="763" y2="171.5" stroke-width="1"/>
</g>
<g font-size="19.2" text-anchor="middle" stroke="#000" stroke-width="0.55">
<text x="185.4" y="495.2" textLength="11.3" lengthAdjust="spacingAndGlyphs">4</text>
<text x="236.3" y="495.2" textLength="11.3" lengthAdjust="spacingAndGlyphs">8</text>
<text x="287.1" y="495.2" textLength="22.2" lengthAdjust="spacingAndGlyphs">12</text>
<text x="338.0" y="495.2" textLength="22.2" lengthAdjust="spacingAndGlyphs">16</text>
<text x="388.8" y="495.2" textLength="22.2" lengthAdjust="spacingAndGlyphs">20</text>
<text x="439.6" y="495.2" textLength="22.2" lengthAdjust="spacingAndGlyphs">24</text>
<text x="490.5" y="495.2" textLength="22.2" lengthAdjust="spacingAndGlyphs">28</text>
<text x="541.3" y="495.2" textLength="22.2" lengthAdjust="spacingAndGlyphs">32</text>
<text x="592.2" y="495.2" textLength="22.2" lengthAdjust="spacingAndGlyphs">36</text>
<text x="643.0" y="495.2" textLength="22.2" lengthAdjust="spacingAndGlyphs">40</text>
<text x="693.8" y="495.2" textLength="22.2" lengthAdjust="spacingAndGlyphs">44</text>
<text x="744.7" y="495.2" textLength="22.2" lengthAdjust="spacingAndGlyphs">48</text>
</g>
<g font-size="19.2" text-anchor="end" stroke="#000" stroke-width="0.55">
<text x="126.8" y="401.4" textLength="11.3" lengthAdjust="spacingAndGlyphs">5</text>
<text x="126.8" y="321.4" textLength="22.2" lengthAdjust="spacingAndGlyphs">10</text>
<text x="126.8" y="241.4" textLength="22.2" lengthAdjust="spacingAndGlyphs">15</text>
</g>
<g font-size="29.2" stroke="#fff" stroke-width="0.6" paint-order="fill stroke">
<text x="340.3" y="113.1" textLength="103" lengthAdjust="spacingAndGlyphs">vertical</text>
<text x="460.3" y="113.1" textLength="102.6" lengthAdjust="spacingAndGlyphs">velocity</text>
</g>
<text x="47" y="134.5" font-size="18.2" stroke="#000" stroke-width="0.2" textLength="96.8" lengthAdjust="spacingAndGlyphs">(×1000 m)</text>
<text x="684.2" y="516.9" font-size="18.2" stroke="#000" stroke-width="0.2" textLength="97" lengthAdjust="spacingAndGlyphs">(×1000 m)</text>
<text x="777.8" y="169" font-size="17.8" textLength="120" lengthAdjust="spacingAndGlyphs" stroke="#fff" stroke-width="0.25" paint-order="fill stroke">t=2.4984e+06</text>
<g font-size="23.8">
<text x="378.3" y="546.6" textLength="14" lengthAdjust="spacingAndGlyphs">X</text>
<text transform="translate(90.8,388.2) rotate(-90)" textLength="13.6" lengthAdjust="spacingAndGlyphs">Z</text>
</g>
<g font-size="23.8" stroke="#fff" stroke-width="0.35" paint-order="fill stroke">
<text x="405" y="546.8" textLength="122" lengthAdjust="spacingAndGlyphs">coordinate</text>
<text transform="translate(91,361) rotate(-90)" textLength="121" lengthAdjust="spacingAndGlyphs">coordinate</text>
</g>
<g shape-rendering="crispEdges">
<rect x="784" y="247.30" width="18" height="11.39" fill="#FF2121"/>
<rect x="784" y="258.59" width="18" height="11.39" fill="#FF2600"/>
<rect x="784" y="269.88" width="18" height="11.39" fill="#FF5500"/>
<rect x="784" y="281.17" width="18" height="11.39" fill="#FF7D00"/>
<rect x="784" y="292.46" width="18" height="11.39" fill="#FFA500"/>
<rect x="784" y="303.75" width="18" height="11.39" fill="#FFD700"/>
<rect x="784" y="315.04" width="18" height="11.39" fill="#FFFF00"/>
<rect x="784" y="326.33" width="18" height="11.39" fill="#D2FF00"/>
<rect x="784" y="337.62" width="18" height="11.39" fill="#8CFF00"/>
<rect x="784" y="348.91" width="18" height="11.39" fill="#00FF00"/>
<rect x="784" y="360.20" width="18" height="11.39" fill="#00FF8C"/>
<rect x="784" y="371.49" width="18" height="11.39" fill="#00FFC8"/>
<rect x="784" y="382.78" width="18" height="11.39" fill="#00FFFF"/>
<rect x="784" y="394.07" width="18" height="11.39" fill="#00AAFF"/>
<rect x="784" y="405.36" width="18" height="11.39" fill="#005AFF"/>
<rect x="784" y="416.65" width="18" height="11.39" fill="#0032FF"/>
<rect x="784" y="427.94" width="18" height="11.39" fill="#0000FF"/>
<rect x="784" y="439.23" width="18" height="11.39" fill="#0000B9"/>
<rect x="784" y="450.52" width="18" height="11.39" fill="#1900AA"/>
<rect x="784" y="461.81" width="18" height="11.39" fill="#4B00AA"/>
</g>
<g stroke="#000" stroke-width="2" fill="none" stroke-miterlimit="20">
<line x1="783" y1="247" x2="803" y2="247" shape-rendering="crispEdges"/>
<line x1="783" y1="259" x2="803" y2="259" shape-rendering="crispEdges"/>
<line x1="783" y1="270" x2="803" y2="270" shape-rendering="crispEdges"/>
<line x1="783" y1="281" x2="803" y2="281" shape-rendering="crispEdges"/>
<line x1="783" y1="292" x2="803" y2="292" shape-rendering="crispEdges"/>
<line x1="783" y1="304" x2="803" y2="304" shape-rendering="crispEdges"/>
<line x1="783" y1="315" x2="803" y2="315" shape-rendering="crispEdges"/>
<line x1="783" y1="326" x2="803" y2="326" shape-rendering="crispEdges"/>
<line x1="783" y1="338" x2="803" y2="338" shape-rendering="crispEdges"/>
<line x1="783" y1="349" x2="803" y2="349" shape-rendering="crispEdges"/>
<line x1="783" y1="360" x2="803" y2="360" shape-rendering="crispEdges"/>
<line x1="783" y1="371" x2="803" y2="371" shape-rendering="crispEdges"/>
<line x1="783" y1="383" x2="803" y2="383" shape-rendering="crispEdges"/>
<line x1="783" y1="394" x2="803" y2="394" shape-rendering="crispEdges"/>
<line x1="783" y1="405" x2="803" y2="405" shape-rendering="crispEdges"/>
<line x1="783" y1="417" x2="803" y2="417" shape-rendering="crispEdges"/>
<line x1="783" y1="428" x2="803" y2="428" shape-rendering="crispEdges"/>
<line x1="783" y1="439" x2="803" y2="439" shape-rendering="crispEdges"/>
<line x1="783" y1="451" x2="803" y2="451" shape-rendering="crispEdges"/>
<line x1="783" y1="462" x2="803" y2="462" shape-rendering="crispEdges"/>
<line x1="784" y1="247" x2="784" y2="473" shape-rendering="crispEdges"/>
<line x1="802" y1="247" x2="802" y2="473" shape-rendering="crispEdges"/>
<polygon points="784.6,247 793.3,209.8 802,247" fill="#FFAAAA" stroke="none"/>
<polyline points="784.6,247 793.3,209.8 802,247"/>
<polygon points="784,473 793,511 802,473" fill="#9B00AF" stroke="none"/>
<polyline points="784,473 793,511 802,473"/>
<line x1="783" y1="473.5" x2="803" y2="473.5" stroke-width="1" shape-rendering="crispEdges"/>
</g>
<g font-size="17.3" stroke="#000" stroke-width="0.45">
<text x="811.2" y="263.9" textLength="19.4" lengthAdjust="spacingAndGlyphs">18</text>
<text x="811.2" y="297.7" textLength="19.4" lengthAdjust="spacingAndGlyphs">12</text>
<text x="811.2" y="331.6" textLength="9.8" lengthAdjust="spacingAndGlyphs">6</text>
<text x="811.2" y="365.4" textLength="9.8" lengthAdjust="spacingAndGlyphs">0</text>
<text x="811.2" y="399.2" textLength="23.8" lengthAdjust="spacingAndGlyphs">−6</text>
<text x="811.2" y="433.1" textLength="33.4" lengthAdjust="spacingAndGlyphs">−12</text>
<text x="811.2" y="466.9" textLength="33.4" lengthAdjust="spacingAndGlyphs">−18</text>
</g>
</svg></body></html>
